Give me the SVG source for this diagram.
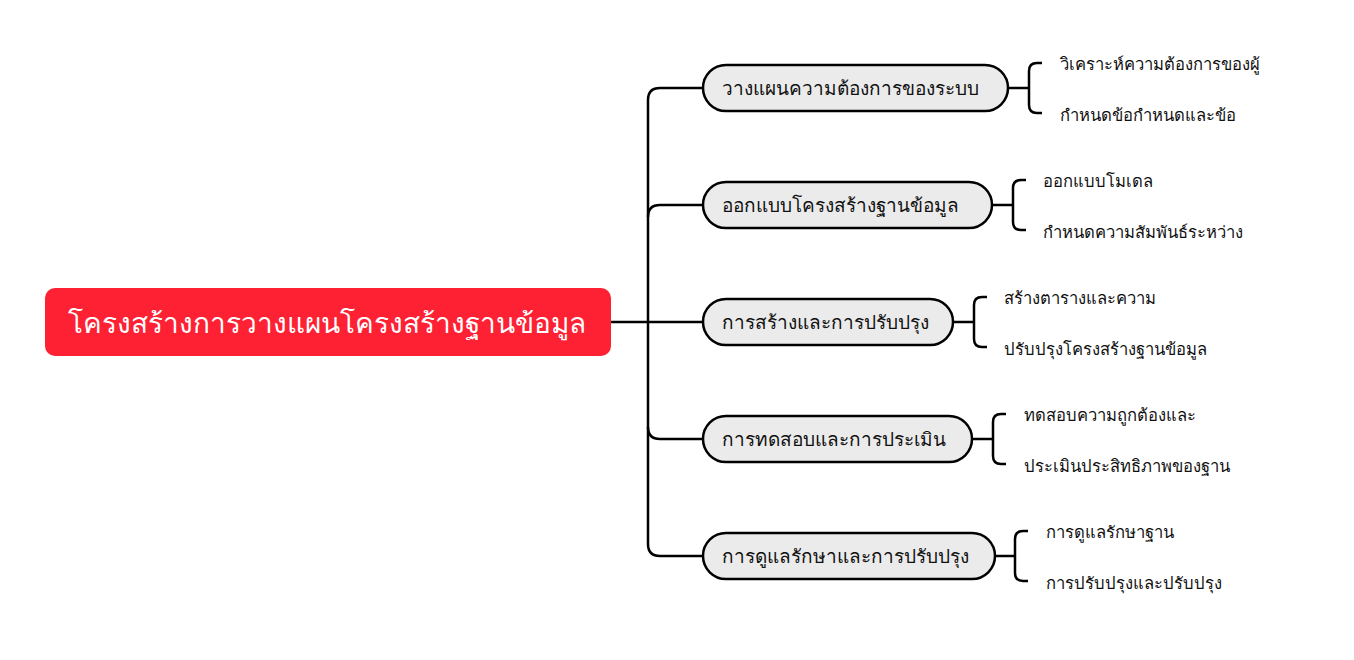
<svg xmlns="http://www.w3.org/2000/svg" width="1354" height="660" viewBox="0 0 1354 660">
<style>
.root{fill:#fe2033;}
.rt{font-family:"Noto Sans","DejaVu Sans",sans-serif;font-size:28px;fill:#fff;text-anchor:middle;dominant-baseline:central;}
.br rect{fill:#ebebeb;stroke:#000;stroke-width:2.5;}
.bt{font-family:"Noto Sans","DejaVu Sans",sans-serif;font-size:19px;fill:#111;dominant-baseline:central;}
.lt{font-family:"Noto Sans","DejaVu Sans",sans-serif;font-size:16.6px;fill:#111;dominant-baseline:central;}
.c{fill:none;stroke:#000;stroke-width:2.5;}
</style>
<rect width="1354" height="660" fill="#fff"/>
<g id="connectors">
<path class="c" d="M611 322 H648"/>
<path class="c" d="M703 88 H660 Q648 88 648 100 V544 Q648 556 660 556 H703"/>
<path class="c" d="M660 205 H703 M648 217 Q648 205 660 205"/>
<path class="c" d="M648 322 H703"/>
<path class="c" d="M648 427 Q648 439 660 439 H703"/>
<path class="c" d="M1008 88 H1029 M1042 63 H1037 Q1029 63 1029 71 V105 Q1029 113 1037 113 H1042"/>
<path class="c" d="M992 205 H1013 M1026 180 H1021 Q1013 180 1013 188 V222 Q1013 230 1021 230 H1026"/>
<path class="c" d="M953 322 H974 M987 297 H982 Q974 297 974 305 V339 Q974 347 982 347 H987"/>
<path class="c" d="M972 439 H993 M1006 414 H1001 Q993 414 993 422 V456 Q993 464 1001 464 H1006"/>
<path class="c" d="M995 556 H1015 M1028 531 H1023 Q1015 531 1015 539 V573 Q1015 581 1023 581 H1028"/>
</g>
<g id="root">
<rect class="root" x="45" y="288" width="566" height="68" rx="10"/>
<text class="rt" x="327" y="322">โครงสร้างการวางแผนโครงสร้างฐานข้อมูล</text>
</g>
<g id="b1" class="br"><rect x="703" y="65" width="305" height="46" rx="23"/><text class="bt" x="722" y="88">วางแผนความต้องการของระบบ</text></g>
<g id="b2" class="br"><rect x="703" y="182" width="289" height="46" rx="23"/><text class="bt" x="722" y="205">ออกแบบโครงสร้างฐานข้อมูล</text></g>
<g id="b3" class="br"><rect x="703" y="299" width="250" height="46" rx="23"/><text class="bt" x="722" y="322">การสร้างและการปรับปรุง</text></g>
<g id="b4" class="br"><rect x="703" y="416" width="269" height="46" rx="23"/><text class="bt" x="722" y="439">การทดสอบและการประเมิน</text></g>
<g id="b5" class="br"><rect x="703" y="533" width="292" height="46" rx="23"/><text class="bt" x="722" y="556">การดูแลรักษาและการปรับปรุง</text></g>
<g id="l1a"><text class="lt" x="1060" y="63">วิเคราะห์ความต้องการของผู้</text></g>
<g id="l1b"><text class="lt" x="1060" y="114">กำหนดข้อกำหนดและข้อ</text></g>
<g id="l2a"><text class="lt" x="1043" y="180">ออกแบบโมเดล</text></g>
<g id="l2b"><text class="lt" x="1043" y="231">กำหนดความสัมพันธ์ระหว่าง</text></g>
<g id="l3a"><text class="lt" x="1004" y="297">สร้างตารางและความ</text></g>
<g id="l3b"><text class="lt" x="1004" y="348">ปรับปรุงโครงสร้างฐานข้อมูล</text></g>
<g id="l4a"><text class="lt" x="1024" y="414">ทดสอบความถูกต้องและ</text></g>
<g id="l4b"><text class="lt" x="1024" y="465">ประเมินประสิทธิภาพของฐาน</text></g>
<g id="l5a"><text class="lt" x="1046" y="531">การดูแลรักษาฐาน</text></g>
<g id="l5b"><text class="lt" x="1046" y="582">การปรับปรุงและปรับปรุง</text></g>
</svg>
